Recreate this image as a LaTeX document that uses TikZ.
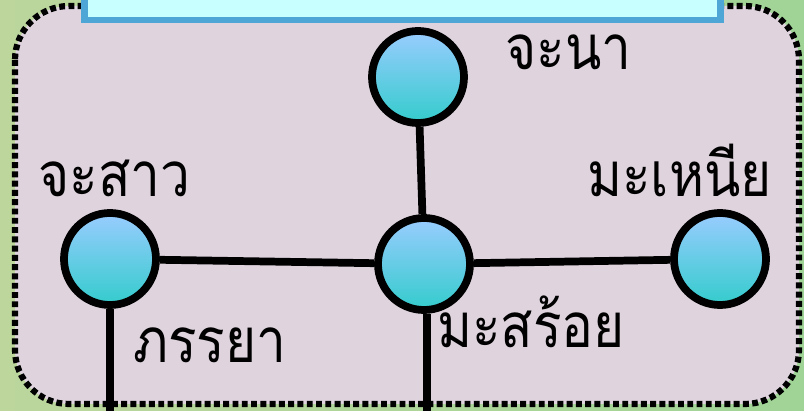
\documentclass[tikz,border=0pt]{standalone}
\usepackage{fontspec}
\newfontfamily\thaifont[Script=Thai,FakeStretch=0.86]{Loma}
\usepackage{tikz}
\usetikzlibrary{positioning,backgrounds}
\definecolor{bggreen}{RGB}{160,212,150}
\definecolor{bgolive}{RGB}{188,214,156}
\definecolor{panelpink}{RGB}{223,212,222}
\definecolor{titlecyan}{RGB}{200,255,255}
\definecolor{titleblue}{RGB}{77,166,214}
\definecolor{balltop}{RGB}{153,204,255}
\definecolor{ballbot}{RGB}{51,204,204}

\begin{document}
\begin{tikzpicture}[x=0.025cm, y=-0.025cm,
  person/.style={circle, draw=black, line width=5.5pt, minimum size=2.3cm, inner sep=0pt, top color=balltop, bottom color=ballbot},
  link/.style={line width=5.5pt, black},
  nametext/.style={font=\thaifont\fontsize{44}{50}\selectfont, inner sep=0pt},
  titlebox/.style={rectangle, draw=titleblue, fill=titlecyan, line width=4.5pt, minimum width=15.9cm, minimum height=1.2cm}
]
  \useasboundingbox (0,0) rectangle (804,411);
  \fill[left color=bgolive, right color=bggreen] (0,0) rectangle (804,411);

  % panel
  \draw[fill=panelpink, line width=4.4pt, dash pattern=on 4.2pt off 2.4pt, rounded corners=1.35cm] (15,6) rectangle (799,404);
  \node[titlebox] (title) at (402.5,-4) {};

  % family
  \node[person] (jana) at (418,77) {};
  \node[person] (jasao) at (110,259) {};
  \node[person] (masroi) at (424,264) {};
  \node[person] (manuea) at (720,259) {};
  \coordinate (jasaoend) at (110,411);
  \coordinate (masroiend) at (427,411);

  \draw[link] (jana) -- (masroi);
  \draw[link] (jasao) -- (masroi);
  \draw[link] (masroi) -- (manuea);
  \draw[link] (jasao) -- (jasaoend);
  \draw[link] (masroi.south -| masroiend) -- (masroiend);

  \node[nametext, anchor=base west] (janalbl) at (505,70) {จะนา};
  \node[nametext, anchor=base west] (jasaolbl) at (38,197) {จะสาว};
  \node[nametext, anchor=base east] (manuealbl) at (772,197) {มะเหนีย};
  \node[nametext, anchor=base west] (masroilbl) at (437,348) {มะสร้อย};
  \node[nametext, anchor=base west] (wifelbl) at (133,363) {ภรรยา};
\end{tikzpicture}
\end{document}
